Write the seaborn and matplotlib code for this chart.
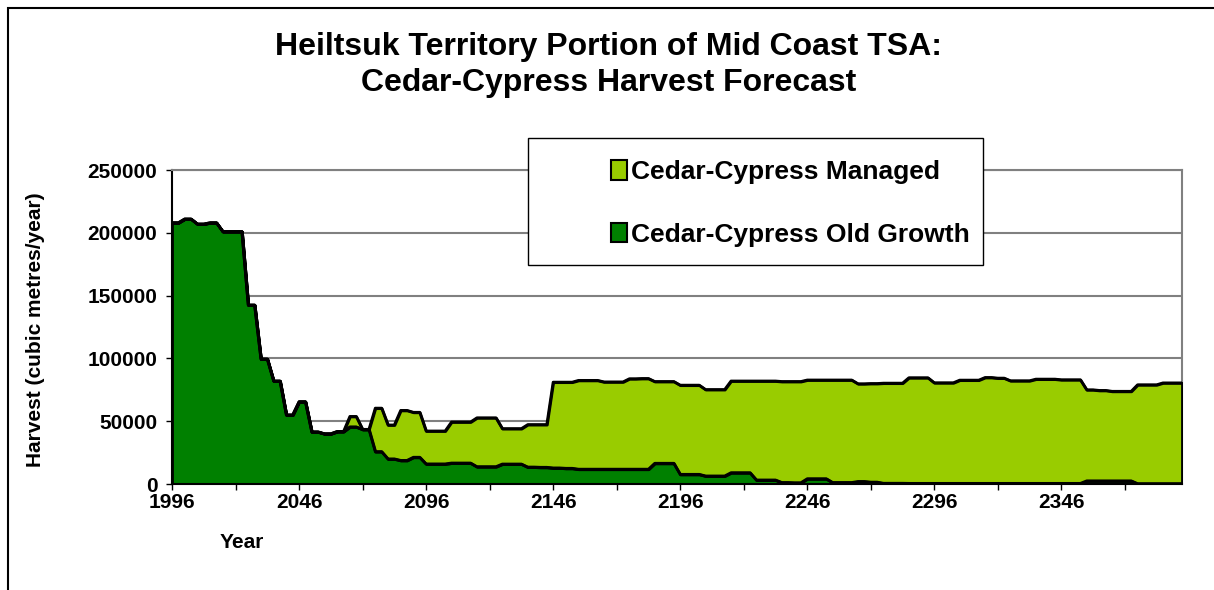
import numpy as np
import pandas as pd
import matplotlib
matplotlib.use("Agg")
import matplotlib.pyplot as plt
from matplotlib.patches import Patch, Rectangle
import seaborn as sns

# Harvest per 5-year period (cubic metres/year), 80 periods starting 1996
old_growth = [208000, 211000, 207000, 208000, 201000, 201000, 142500, 99500, 82000, 55000,
              65500, 41500, 40000, 41800, 45500, 43500, 25800, 20000, 18800, 21300,
              16000, 16000, 16700, 16700, 13800, 13800, 15900, 15900, 13500, 13300,
              12800, 12500, 11800, 11800, 11800, 11800, 11800, 11800, 16500, 16500,
              7700, 7700, 6400, 6400, 9000, 9000, 3200, 3200, 1200, 1000,
              4200, 4200, 1200, 1200, 2000, 1500, 600, 600, 500, 500,
              500, 500, 500, 500, 500, 500, 500, 500, 500, 500,
              500, 500, 2500, 2500, 2500, 2500, 300, 300, 300, 300]
managed = [0, 0, 0, 0, 0, 0, 0, 0, 0, 0,
           0, 0, 0, 0, 8300, 0, 34600, 27000, 39800, 35800,
           26200, 26200, 32700, 32700, 38900, 38900, 28200, 28200, 33800, 34000,
           68300, 68600, 70700, 70700, 69500, 69500, 72000, 72200, 65100, 65100,
           71000, 71000, 68800, 68800, 73000, 73000, 78800, 78800, 80400, 80600,
           78600, 78600, 81600, 81600, 77800, 78500, 79700, 79700, 84100, 84100,
           80100, 80100, 82200, 82200, 84300, 83800, 81700, 81700, 83000, 83000,
           82500, 82500, 72500, 72000, 71300, 71300, 78700, 78700, 80200, 80200]
year_labels = ["1996", "2046", "2096", "2146", "2196", "2246", "2296", "2346"]
y_ticks = [0, 50000, 100000, 150000, 200000, 250000]
series_names = ["Cedar-Cypress Managed", "Cedar-Cypress Old Growth"]

LIGHT = "#99CC00"
DARK = "#008000"

# each period is drawn as a start and end category (Excel step look)
df = pd.DataFrame({
    "cat": np.arange(2 * len(old_growth)),
    "old": np.repeat(old_growth, 2),
    "man": np.repeat(managed, 2),
})
df["total"] = df["old"] + df["man"]

sns.set_style("white")
plt.rcParams["font.family"] = ["Liberation Sans", "DejaVu Sans"]
plt.rcParams["font.weight"] = "bold"
plt.rcParams["text.color"] = "black"
plt.rcParams["xtick.color"] = "black"
plt.rcParams["ytick.color"] = "black"
plt.rcParams["xtick.labelcolor"] = "black"
plt.rcParams["ytick.labelcolor"] = "black"

fig = plt.figure(figsize=(12.14, 5.9), dpi=100)
ax = fig.add_axes([172 / 1214, 1 - 484 / 590, 1010 / 1214, 314 / 590])

ax.fill_between(df["cat"], 0, df["old"], facecolor=DARK, edgecolor="black", lw=2, zorder=2)
ax.fill_between(df["cat"], df["old"], df["total"], facecolor=LIGHT, edgecolor="black", lw=2, zorder=3)
sns.lineplot(x=df["cat"], y=df["total"], color="black", lw=2, ax=ax, zorder=4)
sns.lineplot(x=df["cat"], y=df["old"], color="black", lw=2, ax=ax, zorder=4)

ax.set_xlim(0, len(df) - 1)
ax.set_ylim(0, 250000)
ax.set_xlabel("")
ax.set_ylabel("")

xt = np.arange(0, len(df), 10)
ax.set_xticks(xt)
ax.set_xticklabels([year_labels[i // 2] if i % 2 == 0 else "" for i in range(len(xt))])
ax.set_yticks(y_ticks)
ax.set_yticklabels([str(v) for v in y_ticks])
ax.tick_params(axis="both", direction="out", length=4.5, width=1, color="black",
               labelcolor="black", labelsize=15, bottom=True, left=True)
ax.tick_params(axis="x", pad=2)
ax.tick_params(axis="y", pad=6)

ax.yaxis.grid(True, color="#808080", lw=1.5)
ax.set_axisbelow(True)
for s in ["top", "right"]:
    ax.spines[s].set_color("#808080")
    ax.spines[s].set_linewidth(1.5)
for s in ["left", "bottom"]:
    ax.spines[s].set_color("black")
    ax.spines[s].set_linewidth(1.5)

# legend box
box = Rectangle((528 / 1214, 1 - 265 / 590), (983 - 528) / 1214, 127 / 590,
                transform=fig.transFigure, facecolor="white", edgecolor="black",
                lw=1, clip_on=False, zorder=5)
ax.add_patch(box)
handles = [Patch(facecolor=LIGHT, edgecolor="black", lw=1.5),
           Patch(facecolor=DARK, edgecolor="black", lw=1.5)]
leg = ax.legend(handles, series_names, loc="upper left",
                bbox_to_anchor=(598 / 1214, 1 - 147 / 590), bbox_transform=fig.transFigure,
                frameon=False, fontsize=19, handlelength=0.6, handleheight=0.75,
                handletextpad=0.15, labelspacing=1.47, borderpad=0)
leg.set_zorder(6)

fig.text(0.5016, 1 - 65 / 590,
         "Heiltsuk Territory Portion of Mid Coast TSA:\nCedar-Cypress Harvest Forecast",
         ha="center", va="center", fontsize=23, fontweight="bold", linespacing=1.25)
fig.text(36 / 1214, 1 - 330 / 590, "Harvest (cubic metres/year)", rotation=90,
         ha="center", va="center", fontsize=15, fontweight="bold")
fig.text(242 / 1214, 1 - 543 / 590, "Year", ha="center", va="center",
         fontsize=15, fontweight="bold")

# outer chart border
fig.patches.append(Rectangle((8 / 1214, -0.2), 2, 1.2 - 8 / 590, transform=fig.transFigure,
                             fill=False, edgecolor="black", lw=1.5))

fig.savefig("out.png", dpi=100)
